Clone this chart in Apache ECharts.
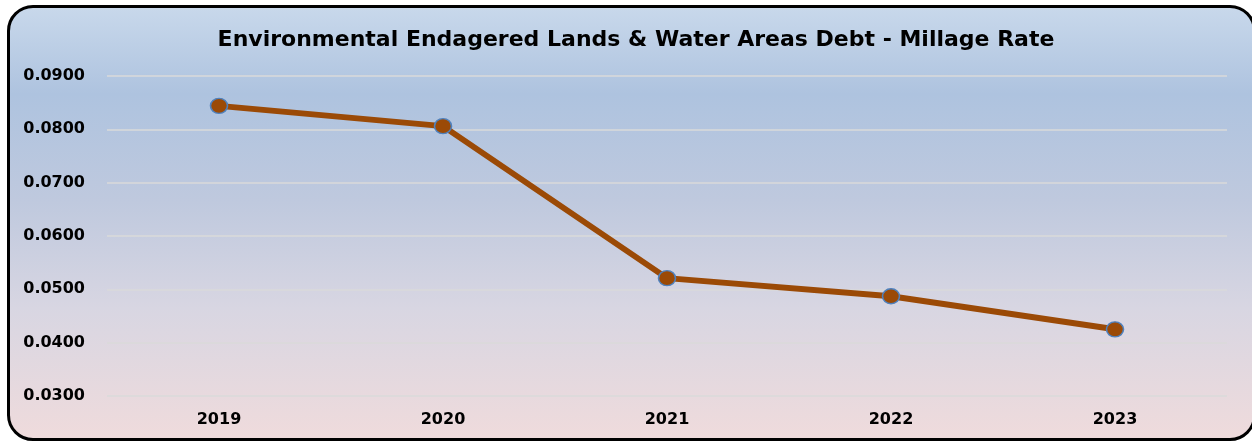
<!DOCTYPE html>
<html>
<head>
<meta charset="utf-8">
<script src="https://cdn.jsdelivr.net/npm/echarts@6/dist/echarts.min.js"></script>
<style>
  html, body { margin: 0; padding: 0; background: #ffffff; overflow: hidden; }
  #frame {
    position: absolute; left: 7px; top: 5px; width: 1249px; height: 436px;
    border: 3px solid #000; border-radius: 26px; box-sizing: border-box;
    background: linear-gradient(to bottom, #c8d8eb 0%, #aec3df 20%, #bfc9de 45%, #d8d6e2 70%, #efdbdc 100%);
  }
  #chart { position: absolute; left: 0; top: 0; width: 1252px; height: 442px; }
</style>
</head>
<body>
<div id="frame"></div>
<div id="chart"></div>
<script>
var years = ['2019', '2020', '2021', '2022', '2023'];
var millageRate = [0.0844, 0.0806, 0.0521, 0.0487, 0.0425];

var chart = echarts.init(document.getElementById('chart'));
chart.setOption({
  backgroundColor: 'transparent',
  animation: false,
  title: {
    text: 'Environmental Endagered Lands & Water Areas Debt - Millage Rate',
    left: 631, top: 24, textAlign: 'center',
    textStyle: { fontFamily: 'DejaVu Sans', fontWeight: 'bold', fontSize: 22, color: '#000' }
  },
  grid: { left: 107, right: 25, top: 76, bottom: 46 },
  xAxis: {
    type: 'category',
    data: years,
    boundaryGap: true,
    axisLine: { show: false },
    axisTick: { show: false },
    axisLabel: { margin: 16, fontFamily: 'DejaVu Sans', fontWeight: 'bold', fontSize: 16, color: '#000' }
  },
  yAxis: {
    type: 'value',
    min: 0.03, max: 0.09, interval: 0.01,
    axisLine: { show: false },
    axisTick: { show: false },
    splitLine: { lineStyle: { color: '#dadada', width: 1.5 } },
    axisLabel: {
      margin: 22, fontFamily: 'DejaVu Sans', fontWeight: 'bold', fontSize: 16, color: '#000',
      formatter: function (v) { return v.toFixed(4); }
    }
  },
  series: [{
    type: 'line',
    data: millageRate,
    lineStyle: { color: '#9b4a06', width: 6 },
    symbol: 'circle',
    symbolSize: [17, 15],
    itemStyle: { color: '#9b4a06', borderColor: '#4f81bd', borderWidth: 1.5 }
  }]
});
</script>
</body>
</html>
